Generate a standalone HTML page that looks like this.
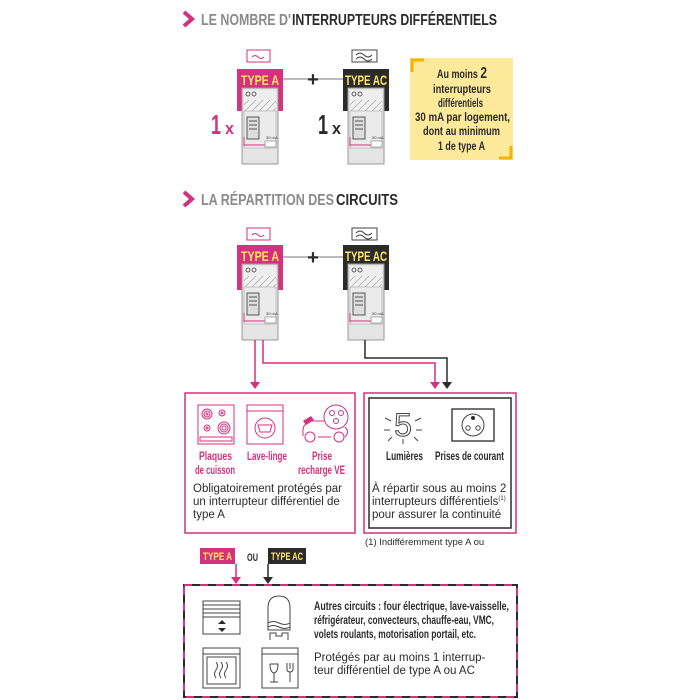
<!DOCTYPE html>
<html><head><meta charset="utf-8"><style>
html,body{margin:0;padding:0;background:#fff;}
svg{display:block;}
.c{font-family:"Liberation Sans Narrow","Liberation Sans",sans-serif;font-weight:bold;}
.r{font-family:"Liberation Sans",sans-serif;}
</style></head><body>
<svg width="700" height="700" viewBox="0 0 700 700" xmlns="http://www.w3.org/2000/svg">
<defs>
<pattern id="h" width="5" height="5" patternUnits="userSpaceOnUse" patternTransform="rotate(45)">
<rect width="5" height="5" fill="#f2f2f2"/><line x1="0" y1="0" x2="0" y2="5" stroke="#999" stroke-width="1.2"/></pattern>
<g id="body">
<rect x="5" y="19" width="36" height="76" fill="#e4e4e4" stroke="#999" stroke-width="1"/>
<rect x="7" y="21" width="32" height="10" fill="#eeeeee"/>
<circle cx="11" cy="25" r="2" fill="none" stroke="#444" stroke-width="0.8"/>
<circle cx="17" cy="25" r="2" fill="none" stroke="#444" stroke-width="0.8"/>
<rect x="7" y="31" width="32" height="11" fill="url(#h)"/>
<rect x="7" y="42" width="32" height="37" fill="#ebebeb" stroke="#aaa" stroke-width="0.6"/>
<rect x="10" y="48" width="12" height="22" fill="#ddd" stroke="#555" stroke-width="1"/>
<line x1="12" y1="52" x2="20" y2="52" stroke="#555"/><line x1="12" y1="56" x2="20" y2="56" stroke="#555"/><line x1="12" y1="60" x2="20" y2="60" stroke="#555"/>
<line x1="7" y1="76" x2="28" y2="76" stroke="#d4317e" stroke-width="1"/>
<line x1="7" y1="68" x2="7" y2="77" stroke="#d4317e" stroke-width="1"/>
<rect x="28" y="72" width="11" height="6" fill="#fff" stroke="#777" stroke-width="0.6"/>
<text x="29" y="70" font-size="4" font-family="Liberation Sans" fill="#333">30 mA</text>
</g>
</defs>

<!-- Title 1 -->
<path d="M184 12 L192 19 L184 26" fill="none" stroke="#d4317e" stroke-width="4"/>
<text x="201" y="25" class="c" font-size="16" fill="#8a8a8a" textLength="90" lengthAdjust="spacingAndGlyphs">LE NOMBRE D'</text>
<text x="292" y="25" class="c" font-size="16" fill="#2b2b2b" textLength="205" lengthAdjust="spacingAndGlyphs">INTERRUPTEURS DIFFÉRENTIELS</text>

<!-- Breakers top -->
<line x1="283" y1="79" x2="343" y2="79" stroke="#777" stroke-width="1"/>
<text x="313" y="86" text-anchor="middle" class="c" font-size="20" fill="#2b2b2b">+</text>
<g transform="translate(237,69)">
<rect x="10" y="-19" width="23" height="12" fill="#fff" stroke="#d4317e"/>
<path d="M15 -12 q3 -3 6 0 t6 0" fill="none" stroke="#d4317e"/>
<rect x="0" y="0" width="46" height="42" fill="#d4317e"/>
<use href="#body"/>
<text x="4" y="16" class="c" font-size="14" fill="#ffe85c" textLength="38" lengthAdjust="spacingAndGlyphs">TYPE A</text>
</g>
<g transform="translate(343,69)">
<rect x="9" y="-19" width="25" height="12" fill="#fff" stroke="#444"/>
<path d="M13 -14 q4 -4 8 0 q4 4 8 0 M13 -10 q4 -4 8 0 q4 4 8 0" fill="none" stroke="#444"/>
<rect x="0" y="0" width="46" height="42" fill="#2b2b2b"/>
<use href="#body"/>
<text x="2" y="16" class="c" font-size="14" fill="#ffe85c" textLength="42" lengthAdjust="spacingAndGlyphs">TYPE AC</text>
</g>
<text x="211" y="134" class="c" font-size="28" fill="#d4317e" textLength="10" lengthAdjust="spacingAndGlyphs">1</text>
<text x="225" y="134" class="c" font-size="17" fill="#d4317e" textLength="9" lengthAdjust="spacingAndGlyphs">x</text>
<text x="318" y="134" class="c" font-size="28" fill="#2b2b2b" textLength="10" lengthAdjust="spacingAndGlyphs">1</text>
<text x="332" y="134" class="c" font-size="17" fill="#2b2b2b" textLength="9" lengthAdjust="spacingAndGlyphs">x</text>

<!-- Yellow note -->
<rect x="410" y="58" width="103" height="102" fill="#fce99a"/>
<path d="M412 72 V60 H424" fill="none" stroke="#f2b400" stroke-width="3"/>
<path d="M511 146 V158 H499" fill="none" stroke="#f2b400" stroke-width="3"/>
<g class="c" font-size="12" fill="#2b2b2b">
<text x="437" y="78" textLength="50" lengthAdjust="spacingAndGlyphs">Au moins <tspan font-size="16">2</tspan></text>
<text x="433" y="93" textLength="58" lengthAdjust="spacingAndGlyphs">interrupteurs</text>
<text x="438" y="107" textLength="45" lengthAdjust="spacingAndGlyphs">différentiels</text>
<text x="415" y="121" textLength="95" lengthAdjust="spacingAndGlyphs">30 mA par logement,</text>
<text x="423" y="135" textLength="77" lengthAdjust="spacingAndGlyphs">dont au minimum</text>
<text x="438" y="150" textLength="47" lengthAdjust="spacingAndGlyphs">1 de type A</text>
</g>

<!-- Title 2 -->
<path d="M184 192 L192 199 L184 206" fill="none" stroke="#d4317e" stroke-width="4"/>
<text x="201" y="205" class="c" font-size="16" fill="#8a8a8a" textLength="133" lengthAdjust="spacingAndGlyphs">LA RÉPARTITION DES</text>
<text x="336" y="205" class="c" font-size="16" fill="#2b2b2b" textLength="62" lengthAdjust="spacingAndGlyphs">CIRCUITS</text>

<!-- Breakers second -->
<line x1="283" y1="257" x2="343" y2="257" stroke="#777" stroke-width="1"/>
<text x="313" y="264" text-anchor="middle" class="c" font-size="20" fill="#2b2b2b">+</text>
<g transform="translate(237,245)">
<rect x="10" y="-17" width="23" height="12" fill="#fff" stroke="#d4317e"/>
<path d="M15 -10 q3 -3 6 0 t6 0" fill="none" stroke="#d4317e"/>
<rect x="0" y="0" width="46" height="45" fill="#d4317e"/>
<use href="#body"/>
<text x="4" y="16" class="c" font-size="14" fill="#ffe85c" textLength="38" lengthAdjust="spacingAndGlyphs">TYPE A</text>
</g>
<g transform="translate(343,245)">
<rect x="9" y="-17" width="25" height="12" fill="#fff" stroke="#444"/>
<path d="M13 -12 q4 -4 8 0 q4 4 8 0 M13 -8 q4 -4 8 0 q4 4 8 0" fill="none" stroke="#444"/>
<rect x="0" y="0" width="46" height="45" fill="#2b2b2b"/>
<use href="#body"/>
<text x="2" y="16" class="c" font-size="14" fill="#ffe85c" textLength="42" lengthAdjust="spacingAndGlyphs">TYPE AC</text>
</g>

<!-- connectors -->
<path d="M255 340 V383" fill="none" stroke="#d4317e" stroke-width="1.5"/>
<path d="M250 382 L260 382 L255 389 Z" fill="#d4317e"/>
<path d="M263 340 V363 H435 V383" fill="none" stroke="#d4317e" stroke-width="1.5"/>
<path d="M430 382 L440 382 L435 389 Z" fill="#d4317e"/>
<path d="M365 340 V358 H447 V383" fill="none" stroke="#2b2b2b" stroke-width="1.5"/>
<path d="M442 382 L452 382 L447 389 Z" fill="#2b2b2b"/>

<!-- Left box -->
<rect x="185" y="393" width="170" height="140" fill="#fff" stroke="#d4317e" stroke-width="1.5"/>
<g fill="none" stroke="#d4317e" stroke-width="1">
<rect x="198" y="405" width="36" height="39"/>
<circle cx="207" cy="414" r="5"/><circle cx="207" cy="414" r="3"/><circle cx="207" cy="414" r="1"/>
<circle cx="222" cy="413" r="3"/><circle cx="222" cy="413" r="1"/>
<circle cx="207" cy="428" r="3"/><circle cx="207" cy="428" r="1"/>
<circle cx="224" cy="428" r="6"/><circle cx="224" cy="428" r="4"/><circle cx="224" cy="428" r="2"/>
<rect x="200" y="437" width="32" height="4"/>
<rect x="247" y="405" width="36" height="39"/>
<line x1="247" y1="411" x2="283" y2="411"/>
<circle cx="265" cy="428" r="10"/>
<path d="M258 425 h14 l-2 7 h-10 z"/>
<circle cx="336" cy="417" r="12"/>
<circle cx="332" cy="413" r="2.5"/><circle cx="341" cy="413" r="2.5"/><circle cx="336" cy="421" r="2.5"/>
<path d="M324 421 L312 421 Q302 423 303 433 L303 436"/>
<path d="M318 437 H331"/>
<path d="M345 427 Q350 432 345 437"/>
<circle cx="310" cy="437" r="5"/><circle cx="339" cy="437" r="5"/>
</g>
<path d="M303 421 l8 -5 l3 4 l-8 5 z" fill="#d4317e"/>
<g class="c" font-size="12" fill="#d4317e">
<text x="199" y="460" textLength="33" lengthAdjust="spacingAndGlyphs">Plaques</text>
<text x="195" y="474" textLength="40" lengthAdjust="spacingAndGlyphs">de cuisson</text>
<text x="247" y="460" textLength="40" lengthAdjust="spacingAndGlyphs">Lave-linge</text>
<text x="312" y="460" textLength="20" lengthAdjust="spacingAndGlyphs">Prise</text>
<text x="298" y="474" textLength="47" lengthAdjust="spacingAndGlyphs">recharge VE</text>
</g>
<g class="r" font-size="11.5" fill="#2b2b2b">
<text x="193" y="492">Obligatoirement protégés par</text>
<text x="193" y="505">un interrupteur différentiel de</text>
<text x="193" y="518">type A</text>
</g>

<!-- Right box -->
<rect x="364" y="393" width="152" height="140" fill="#fff" stroke="#d4317e" stroke-width="1.5"/>
<rect x="369" y="398" width="142" height="130" fill="none" stroke="#2b2b2b" stroke-width="1.5"/>
<g fill="none" stroke="#444" stroke-width="1">
<text x="403" y="436" text-anchor="middle" font-family="Liberation Sans" font-size="32" fill="#fff" stroke="#444">5</text>
<line x1="385" y1="418" x2="391" y2="421"/><line x1="421" y1="418" x2="415" y2="421"/>
<line x1="384" y1="430" x2="390" y2="430"/><line x1="422" y1="430" x2="416" y2="430"/>
<line x1="388" y1="441" x2="392" y2="437"/><line x1="418" y1="441" x2="414" y2="437"/>
<line x1="403" y1="439" x2="403" y2="444"/>
<rect x="452" y="409" width="42" height="32" stroke-width="1.5"/>
<circle cx="473" cy="425" r="11"/>
<circle cx="468" cy="428" r="2.2"/><circle cx="478" cy="428" r="2.2"/>
</g>
<circle cx="473" cy="418" r="2" fill="#2b2b2b"/>
<g class="c" font-size="12" fill="#2b2b2b">
<text x="386" y="460" textLength="37" lengthAdjust="spacingAndGlyphs">Lumières</text>
<text x="435" y="460" textLength="69" lengthAdjust="spacingAndGlyphs">Prises de courant</text>
</g>
<g class="r" font-size="11.5" fill="#2b2b2b">
<text x="372" y="492">À répartir sous au moins 2</text>
<text x="372" y="505">interrupteurs différentiels<tspan font-size="6" dy="-5">(1)</tspan></text>
<text x="372" y="518">pour assurer la continuité</text>
</g>
<text x="365" y="545" class="r" font-size="9.5" fill="#2b2b2b">(1) Indifféremment type A ou</text>

<!-- Type labels -->
<rect x="200" y="548" width="35" height="16" fill="#d4317e"/>
<text x="203" y="560" class="c" font-size="11" fill="#ffe85c" textLength="29" lengthAdjust="spacingAndGlyphs">TYPE A</text>
<text x="247" y="561" class="c" font-size="11" fill="#2b2b2b" textLength="11" lengthAdjust="spacingAndGlyphs">OU</text>
<rect x="268" y="548" width="38" height="16" fill="#2b2b2b"/>
<text x="271" y="560" class="c" font-size="11" fill="#ffe85c" textLength="32" lengthAdjust="spacingAndGlyphs">TYPE AC</text>
<line x1="236" y1="564" x2="236" y2="578" stroke="#d4317e" stroke-width="1.5"/>
<path d="M231 577 L241 577 L236 584 Z" fill="#d4317e"/>
<line x1="268" y1="564" x2="268" y2="578" stroke="#2b2b2b" stroke-width="1.5"/>
<path d="M263 577 L273 577 L268 584 Z" fill="#2b2b2b"/>

<!-- Bottom box -->
<rect x="184" y="585" width="333" height="112" fill="#fff" stroke="#2b2b2b" stroke-width="2"/>
<rect x="184" y="585" width="333" height="112" fill="none" stroke="#d4317e" stroke-width="2" stroke-dasharray="8 8"/>
<g fill="none" stroke="#444" stroke-width="1">
<rect x="203" y="601" width="37" height="33"/>
<line x1="203" y1="605" x2="240" y2="605"/><line x1="203" y1="609" x2="240" y2="609"/>
<line x1="203" y1="613" x2="240" y2="613"/><line x1="203" y1="617" x2="240" y2="617"/>
<path d="M268 608 Q268 596 279 596 Q290 596 290 608 V630 H268 Z"/>
<path d="M268 623 q5 -3 11 0 t11 0 M268 627 q5 -3 11 0 t11 0"/>
<path d="M270 640 V633 H276 V636 H282 V633 H288 V640"/>
<rect x="203" y="648" width="37" height="40"/>
<line x1="203" y1="654" x2="240" y2="654"/>
<rect x="207" y="657" width="29" height="27"/>
<path d="M216 678 q-3 -4 0 -8 q3 -4 0 -8 M221 678 q-3 -4 0 -8 q3 -4 0 -8 M226 678 q-3 -4 0 -8 q3 -4 0 -8"/>
<rect x="262" y="648" width="36" height="40"/>
<line x1="262" y1="654" x2="298" y2="654"/>
<path d="M270 664 h8 q0 8 -4 9 V682 M270 682 h8 M270 664 q0 8 4 9"/>
<path d="M287 663 V670 q1 2 3 2 V682 M293 663 V670 q-1 2 -3 2 M290 663 V669"/>
</g>
<path d="M218 624 l4 -4 l4 4 z M218 628 l4 4 l4 -4 z" fill="#2b2b2b"/>
<g class="c" font-size="11.5" fill="#2b2b2b">
<text x="314" y="610" textLength="195" lengthAdjust="spacingAndGlyphs">Autres circuits : four électrique, lave-vaisselle,</text>
<text x="314" y="624" textLength="180" lengthAdjust="spacingAndGlyphs">réfrigérateur, convecteurs, chauffe-eau, VMC,</text>
<text x="314" y="638" textLength="162" lengthAdjust="spacingAndGlyphs">volets roulants, motorisation portail, etc.</text>
</g>
<g class="r" font-size="11.5" fill="#2b2b2b">
<text x="314" y="661">Protégés par au moins 1 interrup-</text>
<text x="314" y="674">teur différentiel de type A ou AC</text>
</g>
</svg>
</body></html>
